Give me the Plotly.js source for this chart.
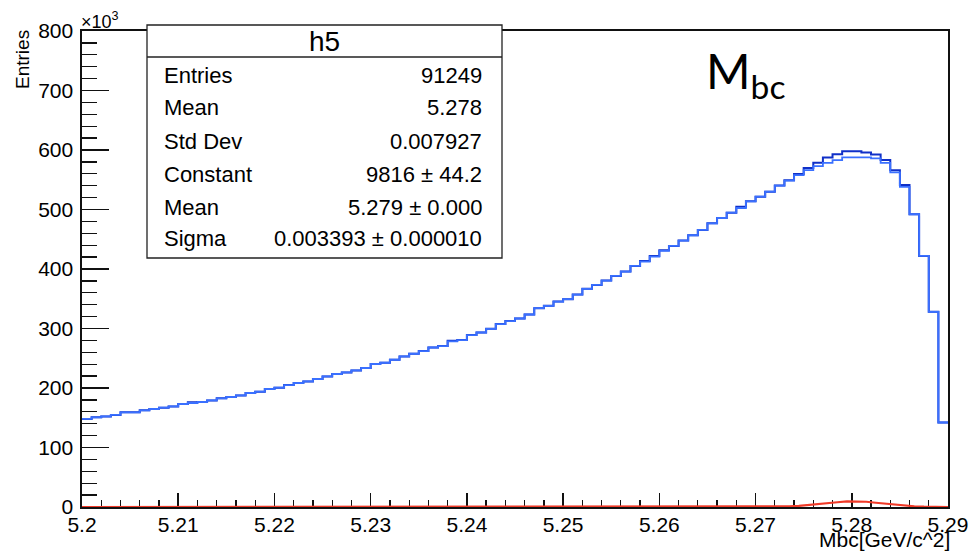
<!DOCTYPE html>
<html>
<head>
<meta charset="utf-8">
<script src="https://cdn.plot.ly/plotly-3.0.1.min.js"></script>
<style>html,body{margin:0;padding:0;background:#fff}#chart{width:978px;height:551px}</style>
</head>
<body>
<div id="chart"></div>
<script>
// ---- data (values in units of 10^3 entries per bin) ----
const xMin = 5.2;
const binWidth = 0.001;
// upper (darker blue) histogram, 90 bins from 5.200 to 5.290
const histDark = [148,150.7,152.3,154.7,159.1,159.1,162.4,164.7,167,169.1,
  173.1,176,176.5,179.2,182.6,184.9,187.6,191.6,193.8,198.3,
  200.5,205,208.4,211.1,215.1,219.5,223.5,226.2,229.5,233.6,
  240.3,242.4,247.5,253,257.6,262,268.1,270.4,279.5,280.5,
  288.9,293.3,299.5,307.4,312.4,316.8,323.5,334.2,338.1,345.3,
  349.3,357.1,366.6,373.3,380.5,388.4,395.6,405.2,413.5,422,
  431.5,438.8,447.7,456.7,465.6,476.8,485.7,494.7,504.7,514,
  521.5,529.9,540.5,549,559.6,569.6,578.5,587.5,593,598,
  598,596,592.6,583,566,541,492,422,328,142];
// lower (lighter blue) histogram
const histLight = [148,150.7,152.3,154.7,159.1,159.1,162.4,164.7,167,169.1,
  173.1,174.8,176.5,179.2,182.6,184.9,187.6,191.6,193.8,198.3,
  200.5,205,208.4,211.1,215.1,219.5,223.5,226.2,229.5,233.6,
  240.3,242.4,247.5,253,257.6,262,268.1,270.4,278.2,280.5,
  288.9,293.3,299.5,307.4,312.4,316.8,323.5,334.2,338.1,345.3,
  349.3,357.1,366.6,373.3,380.5,388.4,395.6,405.2,412.4,420.8,
  430.4,438.8,447.7,456.7,465.6,476.8,485.7,494.7,502.5,513.7,
  521.5,529.9,540,548.4,557.9,566.3,573,578.5,583,587.5,
  587.5,587.5,586,578.5,562.4,538,492,422,328,142];
// signal (red) curve
const signal = [0,0,0,0,0,0,0,0,0,0, 0,0,0,0,0,0,0,0,0,0,
  0,0,0,0,0,0,0,0,0,0, 0,0,0,0,0,0,0,0,0,0,
  0,0,0,0,0,0,0,0,0,0, 0,0,0,0,0,0,0,0,0,0,
  0,0,0,0,0,0,0,0,0,0, 0,0,0,1.0,2.0,3.2,4.5,6.2,8.0,9.6,
  9.8,8.8,7.2,5.6,3.8,2.3,1.2,0.5,0.2,0];
const xTickVals = [5.2,5.21,5.22,5.23,5.24,5.25,5.26,5.27,5.28,5.29];
const xTickText = ['5.2','5.21','5.22','5.23','5.24','5.25','5.26','5.27','5.28','5.29'];
const yTickVals = [0,100,200,300,400,500,600,700,800];
const yTickText = ['0','100','200','300','400','500','600','700','800'];
const statLabels = ['Entries','Mean','Std Dev','Constant','Mean','Sigma'];
const statValues = ['91249','5.278','0.007927','9816 \u00b1 44.2','5.279 \u00b1 0.000','0.003393 \u00b1 0.000010'];
const histName = 'h5';

// ---- build ----
const edges = histDark.map((_, i) => +(xMin + binWidth * i).toFixed(4));
edges.push(+(xMin + binWidth * histDark.length).toFixed(4));
const stepY = a => a.concat([a[a.length - 1]]);
const centers = signal.map((_, i) => +(xMin + binWidth * (i + 0.5)).toFixed(4));

const L = 82, R = 30, T = 31, B = 44, W = 978, H = 551;
const pw = W - L - R, ph = H - T - B;
const px = x => (x - L) / pw;
const py = y => (H - B - y) / ph;

const FONT = 'Liberation Sans, Arial, Helvetica, sans-serif';

const traces = [
  {x: edges, y: stepY(histDark), type: 'scatter', mode: 'lines',
   line: {shape: 'hv', color: '#1030c8', width: 2}, hoverinfo: 'skip'},
  {x: edges, y: stepY(histLight), type: 'scatter', mode: 'lines',
   line: {shape: 'hv', color: '#3a70ff', width: 1.8}, hoverinfo: 'skip'},
  {x: [xMin].concat(centers, [xMin + binWidth * signal.length]),
   y: [0].concat(signal, [0]), type: 'scatter', mode: 'lines',
   line: {color: '#f03a28', width: 2.2}, hoverinfo: 'skip'}
];

const boxL = 147, boxR = 502, boxT = 25, boxB = 258, boxDiv = 57;
const shapes = [
  {type: 'rect', xref: 'paper', yref: 'paper', x0: px(boxL), x1: px(boxR), y0: py(boxB), y1: py(boxT),
   line: {color: '#222', width: 1.3}, fillcolor: '#fff', layer: 'above'},
  {type: 'line', xref: 'paper', yref: 'paper', x0: px(boxL), x1: px(boxR), y0: py(boxDiv), y1: py(boxDiv),
   line: {color: '#222', width: 1.3}, layer: 'above'}
];

const rowY = [75, 108, 141, 174, 207, 238];
const annotations = [];
statLabels.forEach((s, i) => {
  annotations.push({xref: 'paper', yref: 'paper', x: px(162), y: py(rowY[i]), xanchor: 'left', yanchor: 'middle',
    text: s, showarrow: false, font: {family: FONT, size: 22, color: '#000'}});
  annotations.push({xref: 'paper', yref: 'paper', x: px(484), y: py(rowY[i]), xanchor: 'right', yanchor: 'middle',
    text: statValues[i], showarrow: false, font: {family: FONT, size: 22, color: '#000'}});
});
annotations.push({xref: 'paper', yref: 'paper', x: px(324), y: py(41), xanchor: 'center', yanchor: 'middle',
  text: histName, showarrow: false, font: {family: FONT, size: 28, color: '#000'}});
annotations.push({xref: 'paper', yref: 'paper', x: px(79), y: py(20), xanchor: 'left', yanchor: 'middle',
  text: '\u00d710<sup>3</sup>', showarrow: false, font: {family: FONT, size: 18, color: '#000'}});
annotations.push({xref: 'paper', yref: 'paper', x: px(22), y: py(60), xanchor: 'center', yanchor: 'middle',
  text: 'Entries', textangle: -90, showarrow: false, font: {family: FONT, size: 19, color: '#000'}});
annotations.push({xref: 'paper', yref: 'paper', x: px(952), y: py(539), xanchor: 'right', yanchor: 'middle',
  text: 'Mbc[GeV/c^2]', showarrow: false, font: {family: FONT, size: 21, color: '#000'}});
annotations.push({xref: 'paper', yref: 'paper', x: px(704), y: py(74), xanchor: 'left', yanchor: 'middle',
  text: 'M<sub>bc</sub>', showarrow: false, font: {family: 'Lato, Open Sans, sans-serif', size: 48, color: '#000'}});

const layout = {
  width: W, height: H,
  margin: {l: L, r: R, t: T, b: B},
  paper_bgcolor: '#fff', plot_bgcolor: '#fff',
  showlegend: false,
  xaxis: {range: [5.2, 5.29], tickvals: xTickVals, ticktext: xTickText,
    ticks: 'inside', ticklen: 14, tickwidth: 1.5, tickcolor: '#111',
    minor: {ticks: 'inside', ticklen: 7, tickwidth: 1.3, tickcolor: '#111', dtick: 0.002, tick0: 5.2, showgrid: false},
    showline: true, linecolor: '#111', linewidth: 1.6, mirror: true, showgrid: false, zeroline: false,
    ticklabelstandoff: -2,
    layer: 'below traces', tickfont: {family: FONT, size: 21, color: '#000'}},
  yaxis: {range: [0, 800], tickvals: yTickVals, ticktext: yTickText,
    ticks: 'inside', ticklen: 27, tickwidth: 1.5, tickcolor: '#111',
    minor: {ticks: 'inside', ticklen: 15, tickwidth: 1.3, tickcolor: '#111', dtick: 20, tick0: 0, showgrid: false},
    showline: true, linecolor: '#111', linewidth: 1.6, mirror: true, showgrid: false, zeroline: false,
    ticklabelstandoff: 3,
    layer: 'below traces', tickfont: {family: FONT, size: 21, color: '#000'}},
  shapes: shapes,
  annotations: annotations
};

Plotly.newPlot('chart', traces, layout, {displayModeBar: false, staticPlot: true});
</script>
</body>
</html>
